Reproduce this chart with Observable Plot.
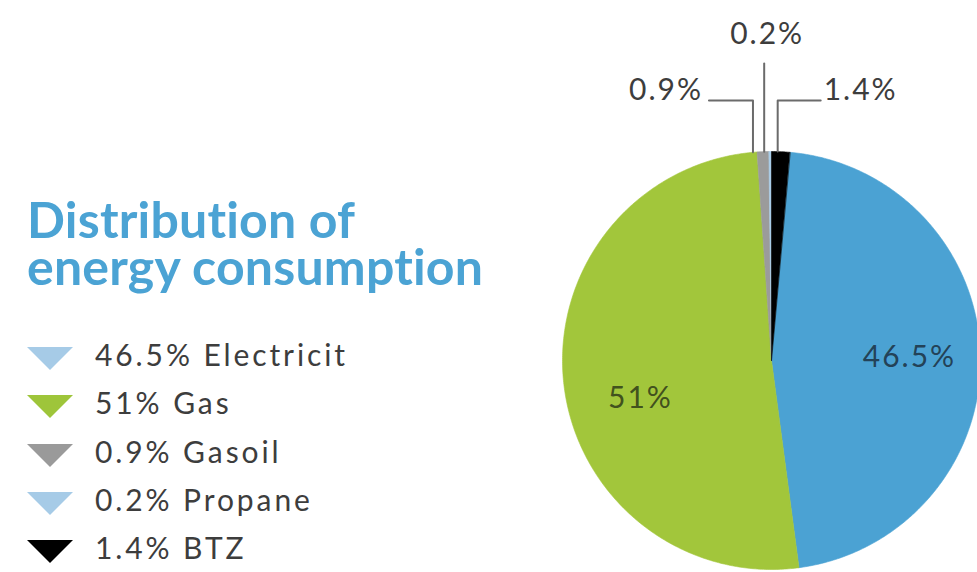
<!DOCTYPE html>
<html>
<head>
<meta charset="utf-8">
<script src="https://cdn.jsdelivr.net/npm/d3@7"></script>
<script src="https://cdn.jsdelivr.net/npm/@observablehq/plot@0.6"></script>
<style>
  html, body { margin: 0; padding: 0; background: #fff; width: 977px; height: 572px; overflow: hidden; font-family: Lato, "Noto Sans", sans-serif; }
  #chart { position: absolute; left: 0; top: 0; }
  #chart svg text { letter-spacing: 2px; }
  .title { position: absolute; left: 27px; color: #4ba3d4; font-weight: 700; font-size: 50px; line-height: 44px; height: 44px; margin: 0; font-variant-ligatures: none; letter-spacing: 0.2px; white-space: nowrap; }
  #t1 { top: 197px; }
  #t2 { top: 244px; }
  #legend { position: absolute; left: 27px; top: 336px; }
  .row { display: flex; align-items: flex-start; height: 48.3px; }
  .row svg { margin-top: 11px; margin-right: 22px; flex: none; }
  .row span { font-size: 30px; color: #3d3d3d; line-height: 36px; letter-spacing: 2.9px; white-space: nowrap; }
</style>
</head>
<body>
<div id="chart"></div>
<div class="title" id="t1">Distribution of</div>
<div class="title" id="t2">energy consumption</div>
<div id="legend"></div>
<script>
// ---- data ----
const categories = ["Electricit", "Gas", "Gasoil", "Propane", "BTZ"];
const shares = [46.5, 51, 0.9, 0.2, 1.4];
const labels = ["46.5%", "51%", "0.9%", "0.2%", "1.4%"];

// ---- styles ----
const pieColors = ["#4ba2d3", "#a2c63b", "#9b9b9b", "#a9cde8", "#000000"];
const legendColors = ["#a6cbe7", "#9ec53a", "#9a9a9a", "#a6cbe7", "#000000"];

// ---- layout ----
const W = 977, H = 572, cx = 771, cy = 360, R = 209;
const total = d3.sum(shares);
const a0 = 2 * Math.PI * shares[shares.length - 1] / total; // BTZ sits at the top, just right of 12 o'clock

const arcs = d3.pie().sort(null).value(d => d.v).startAngle(a0).endAngle(a0 + 2 * Math.PI)(
  categories.map((c, i) => ({c, v: shares[i], label: labels[i]}))
);

// polygon outline for each slice, in unit-radius coordinates (y up)
const slicePts = [];
for (const a of arcs) {
  const n = Math.max(2, Math.ceil((a.endAngle - a.startAngle) / 0.01));
  slicePts.push({c: a.data.c, x: 0, y: 0});
  for (let k = 0; k <= n; k++) {
    const t = a.startAngle + (a.endAngle - a.startAngle) * k / n;
    slicePts.push({c: a.data.c, x: Math.sin(t), y: Math.cos(t)});
  }
}

const mid = a => (a.startAngle + a.endAngle) / 2;
const big = arcs.filter(a => a.data.v >= 5);
const small = arcs.filter(a => a.data.v < 5);

// inner labels
const labelRadius = [0.66, 0.63];
const labelNudgeY = [0, -0.12];
const inner = big.map((a, i) => ({
  x: labelRadius[i] * Math.sin(mid(a)),
  y: labelRadius[i] * Math.cos(mid(a)) + labelNudgeY[i],
  label: a.data.label,
  c: a.data.c
}));

// leader lines for small slices (px offsets converted to unit coords)
const u = px => px / R;
const leaderDx = {Gasoil: -10, Propane: -6, BTZ: -3};
const leaderTop = {Gasoil: 260, Propane: 297, BTZ: 260};  // px above centre where elbow / end sits
const leaderRun = {Gasoil: -44, Propane: 0, BTZ: 43};
const leaders = [];
const outer = [];
for (const a of small) {
  const c = a.data.c;
  const x0 = Math.sin(mid(a)) + u(leaderDx[c]);
  const y0 = Math.sqrt(Math.max(0, 1 - x0 * x0));
  const yt = u(leaderTop[c]);
  leaders.push({c, x: x0, y: y0});
  leaders.push({c, x: x0, y: yt});
  if (leaderRun[c] !== 0) leaders.push({c, x: x0 + u(leaderRun[c]), y: yt});
  const run = leaderRun[c];
  outer.push({
    c, label: a.data.label,
    x: x0 + u(run) + u(run < 0 ? -6 : run > 0 ? 3 : 3),
    y: run === 0 ? yt + u(29) : yt + u(10),
    anchor: run < 0 ? "end" : run > 0 ? "start" : "middle"
  });
}

const chart = Plot.plot({
  width: W, height: H,
  margin: 0,
  x: {domain: [-cx / R, (W - cx) / R], range: [0, W], axis: null},
  y: {domain: [-(H - cy) / R, cy / R], range: [H, 0], axis: null},
  color: {domain: categories, range: pieColors},
  style: {fontFamily: "Lato, 'Noto Sans', sans-serif", background: "transparent"},
  marks: [
    Plot.line(slicePts, {x: "x", y: "y", z: "c", fill: "c", stroke: "c", strokeWidth: 0.6, curve: "linear-closed"}),
    Plot.line(leaders, {x: "x", y: "y", z: "c", stroke: "#6b6b6b", strokeWidth: 2}),
    Plot.text(inner, {x: "x", y: "y", text: "label", fontSize: 30, fill: d => d.c === "Gas" ? "#34421a" : "#1e3547", fillOpacity: 0.9}),
    Plot.text(outer.filter(d => d.anchor === "end"), {x: "x", y: "y", text: "label", fontSize: 30, fill: "#3d3d3d", textAnchor: "end"}),
    Plot.text(outer.filter(d => d.anchor === "start"), {x: "x", y: "y", text: "label", fontSize: 30, fill: "#3d3d3d", textAnchor: "start"}),
    Plot.text(outer.filter(d => d.anchor === "middle"), {x: "x", y: "y", text: "label", fontSize: 30, fill: "#3d3d3d", textAnchor: "middle"})
  ]
});
document.getElementById("chart").appendChild(chart);

// legend
const legend = d3.select("#legend");
categories.forEach((c, i) => {
  const row = legend.append("div").attr("class", "row");
  const s = row.append("svg").attr("width", 46).attr("height", 24);
  s.append("polygon").attr("points", "0,0 46,0 23,23").attr("fill", legendColors[i]);
  row.append("span").text(`${labels[i]} ${c}`);
});
</script>
</body>
</html>
